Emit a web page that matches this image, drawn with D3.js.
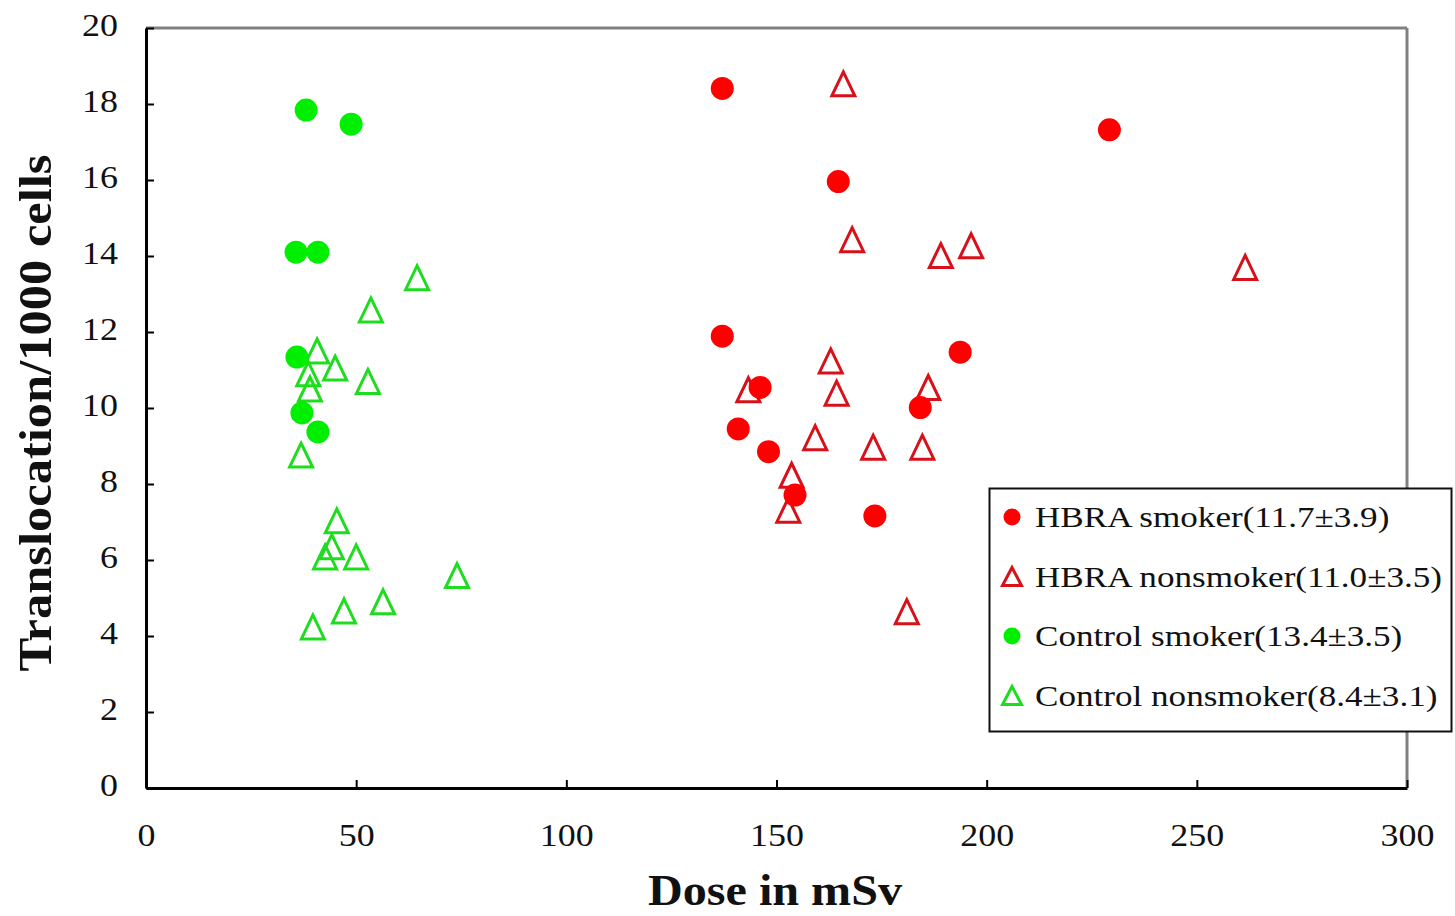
<!DOCTYPE html>
<html>
<head>
<meta charset="utf-8">
<script src="https://cdn.jsdelivr.net/npm/d3@7"></script>
<style>
  html, body { margin: 0; padding: 0; background: #ffffff; }
  svg { display: block; font-family: "Liberation Serif", "Times New Roman", serif; }
</style>
</head>
<body>
<svg id="chart" width="1455" height="916"></svg>
<script>
// Dose (mSv) and translocation frequency per 1000 cells, per group
const hbraSmokerDose = [137.1, 164.7, 229.2, 137.1, 193.7, 146.1, 184.2, 140.9, 148.1, 154.4, 173.4];
const hbraSmokerRate = [18.41, 15.96, 17.32, 11.89, 11.47, 10.54, 10.01, 9.45, 8.85, 7.71, 7.16];

const hbraNonsmokerDose = [165.9, 168.0, 189.1, 196.3, 261.5, 162.9, 143.3, 164.3, 186.1, 159.2, 173.0, 184.7, 153.6, 152.8, 181.0];
const hbraNonsmokerRate = [18.53, 14.43, 14.01, 14.27, 13.70, 11.24, 10.48, 10.39, 10.54, 9.22, 8.97, 8.97, 8.23, 7.31, 4.64];

const controlSmokerDose = [38.1, 48.8, 35.7, 40.9, 35.9, 37.1, 40.9];
const controlSmokerRate = [17.84, 17.47, 14.10, 14.10, 11.34, 9.87, 9.37];

const controlNonsmokerDose = [64.5, 53.5, 40.7, 45.0, 38.6, 39.0, 52.8, 36.9, 45.4, 44.2, 42.6, 50.0, 74.0, 56.4, 47.1, 39.7];
const controlNonsmokerRate = [13.43, 12.58, 11.50, 11.05, 10.90, 10.50, 10.70, 8.76, 7.03, 6.35, 6.08, 6.08, 5.59, 4.90, 4.66, 4.24];

const xTicks = [0, 50, 100, 150, 200, 250, 300];
const yTicks = [0, 2, 4, 6, 8, 10, 12, 14, 16, 18, 20];

const legendLabels = [
  "HBRA smoker(11.7\u00B13.9)",
  "HBRA nonsmoker(11.0\u00B13.5)",
  "Control smoker(13.4\u00B13.5)",
  "Control nonsmoker(8.4\u00B13.1)"
];

const xTitle = "Dose in mSv";
const yTitle = "Translocation/1000 cells";

// ---- layout ----
const plot = { left: 146, right: 1407, top: 28, bottom: 788 };
const RED = "#ff0000", RED_LINE = "#d8101a";
const GREEN = "#00ee00", GREEN_LINE = "#1edc1e";
// the type is set slightly wide; stretch each string horizontally by this factor
const WIDEN = 1.16;

const svg = d3.select("#chart");

const x = d3.scaleLinear().domain([0, 300]).range([plot.left, plot.right]);
const y = d3.scaleLinear().domain([0, 20]).range([plot.bottom, plot.top]);

function widen(sel, factor) {
  sel.each(function () {
    const w = this.getComputedTextLength();
    d3.select(this).attr("textLength", w * factor).attr("lengthAdjust", "spacingAndGlyphs");
  });
}

// frame: grey top/right, black left/bottom axes
svg.append("line").attr("x1", plot.left).attr("x2", plot.right)
  .attr("y1", plot.top).attr("y2", plot.top)
  .attr("stroke", "#808080").attr("stroke-width", 3);
svg.append("line").attr("x1", plot.right).attr("x2", plot.right)
  .attr("y1", plot.top).attr("y2", plot.bottom)
  .attr("stroke", "#808080").attr("stroke-width", 3);

const yAxis = svg.append("g")
  .attr("transform", `translate(${plot.left},0)`)
  .call(d3.axisLeft(y).tickValues(yTicks).tickSizeInner(-8).tickSizeOuter(0).tickPadding(28));
const xAxis = svg.append("g")
  .attr("transform", `translate(0,${plot.bottom})`)
  .call(d3.axisBottom(x).tickValues(xTicks).tickSizeInner(-8).tickSizeOuter(0).tickPadding(36));

[yAxis, xAxis].forEach(g => {
  g.select(".domain").attr("stroke", "#000").attr("stroke-width", 3);
  g.selectAll(".tick line").attr("stroke", "#000").attr("stroke-width", 2);
  g.selectAll(".tick text")
    .attr("fill", "#111")
    .style("font-family", "'Liberation Serif', 'Times New Roman', serif")
    .style("font-size", "31px")
    .call(widen, WIDEN);
});
yAxis.selectAll(".tick text").attr("dy", "0.25em");

// marker shapes
function trianglePath(w, h) {
  return `M0,${-h / 2}L${w / 2},${h / 2}L${-w / 2},${h / 2}Z`;
}

function drawCircles(dose, rate, color) {
  svg.append("g").selectAll("circle")
    .data(dose.map((d, i) => [d, rate[i]]))
    .join("circle")
    .attr("cx", d => x(d[0]))
    .attr("cy", d => y(d[1]))
    .attr("r", 11.5)
    .attr("fill", color);
}

function drawTriangles(dose, rate, color) {
  svg.append("g").selectAll("path")
    .data(dose.map((d, i) => [d, rate[i]]))
    .join("path")
    .attr("transform", d => `translate(${x(d[0])},${y(d[1])})`)
    .attr("d", trianglePath(23, 24))
    .attr("fill", "none")
    .attr("stroke", color)
    .attr("stroke-width", 3)
    .attr("stroke-linejoin", "miter");
}

drawTriangles(controlNonsmokerDose, controlNonsmokerRate, GREEN_LINE);
drawCircles(controlSmokerDose, controlSmokerRate, GREEN);
drawTriangles(hbraNonsmokerDose, hbraNonsmokerRate, RED_LINE);
drawCircles(hbraSmokerDose, hbraSmokerRate, RED);

// axis titles
svg.append("text")
  .attr("x", 775).attr("y", 905)
  .attr("text-anchor", "middle")
  .style("font-size", "44px").style("font-weight", "bold")
  .attr("fill", "#111")
  .text(xTitle)
  .attr("textLength", 254).attr("lengthAdjust", "spacingAndGlyphs");

svg.append("text")
  .attr("transform", "translate(51,413) rotate(-90)")
  .attr("text-anchor", "middle")
  .style("font-size", "47px").style("font-weight", "bold")
  .attr("fill", "#111")
  .text(yTitle)
  .attr("textLength", 517).attr("lengthAdjust", "spacingAndGlyphs");

// legend
const legend = svg.append("g");
legend.append("rect")
  .attr("x", 989.5).attr("y", 488.5)
  .attr("width", 462).attr("height", 243)
  .attr("fill", "#fff").attr("stroke", "#111").attr("stroke-width", 2);

const legendStyles = [
  { shape: "circle", color: RED },
  { shape: "triangle", color: RED_LINE },
  { shape: "circle", color: GREEN },
  { shape: "triangle", color: GREEN_LINE }
];

legendLabels.forEach((label, i) => {
  const cy = 517 + i * 59.5;
  const st = legendStyles[i];
  if (st.shape === "circle") {
    legend.append("circle").attr("cx", 1012).attr("cy", cy).attr("r", 8.5).attr("fill", st.color);
  } else {
    legend.append("path")
      .attr("transform", `translate(1012,${cy})`)
      .attr("d", trianglePath(19, 18))
      .attr("fill", "none").attr("stroke", st.color).attr("stroke-width", 3);
  }
  legend.append("text")
    .attr("x", 1035).attr("y", cy + 10)
    .style("font-size", "30px")
    .attr("fill", "#111")
    .text(label)
    .call(widen, 1.17);
});
</script>
</body>
</html>
